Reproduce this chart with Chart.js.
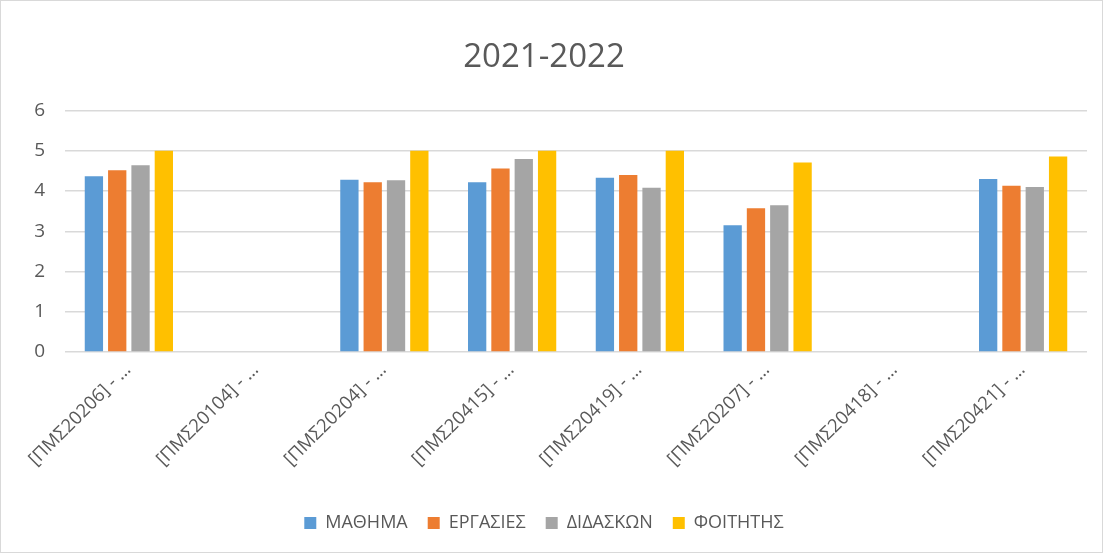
<!DOCTYPE html>
<html>
<head>
<meta charset="utf-8">
<script src="https://cdn.jsdelivr.net/npm/chart.js@4"></script>
<style>
    body { margin: 0; background: #fff; }
    #wrap { width: 1103px; height: 553px; border: 1px solid #d9d9d9; box-sizing: border-box; }
</style>
</head>
<body>
<div id="wrap"><canvas id="courseChart"></canvas></div>
<script>
const courses = ['[ΠΜΣ20206] - …', '[ΠΜΣ20104] - …', '[ΠΜΣ20204] - …', '[ΠΜΣ20415] - …',
                 '[ΠΜΣ20419] - …', '[ΠΜΣ20207] - …', '[ΠΜΣ20418] - …', '[ΠΜΣ20421] - …'];
const seriesNames = ['ΜΑΘΗΜΑ', 'ΕΡΓΑΣΙΕΣ', 'ΔΙΔΑΣΚΩΝ', 'ΦΟΙΤΗΤΗΣ'];
const mathima   = [4.37, null, 4.28, 4.22, 4.33, 3.15, null, 4.30];
const ergasies  = [4.52, null, 4.22, 4.56, 4.40, 3.57, null, 4.13];
const didaskon  = [4.64, null, 4.27, 4.80, 4.08, 3.65, null, 4.10];
const foititis  = [5.00, null, 5.00, 5.00, 5.00, 4.71, null, 4.86];
const yTicks = [0, 1, 2, 3, 4, 5, 6];
const colors = ['#5B9BD5', '#ED7D31', '#A5A5A5', '#FFC000'];

const textColor = '#595959';
const fontFamily = '"Open Sans", sans-serif';

const datasets = [mathima, ergasies, didaskon, foititis].map((values, i) => ({
    label: seriesNames[i],
    data: values,
    backgroundColor: colors[i],
    categoryPercentage: 0.73,
    barPercentage: 0.785
}));

const ctx = document.getElementById('courseChart').getContext('2d');
new Chart(ctx, {
    type: 'bar',
    data: { labels: courses, datasets: datasets },
    options: {
        responsive: true,
        maintainAspectRatio: false,
        animation: false,
        layout: { padding: { top: 5, left: 0, right: 15, bottom: 10 } },
        plugins: {
            title: {
                display: true,
                text: '2021-2022',
                color: textColor,
                font: { family: fontFamily, size: 33, weight: 'normal' },
                padding: { top: 32, bottom: 33 }
            },
            legend: {
                position: 'bottom',
                labels: {
                    color: textColor,
                    font: { family: fontFamily, size: 18 },
                    boxWidth: 12,
                    boxHeight: 12,
                    padding: 20
                }
            },
            tooltip: { enabled: false }
        },
        scales: {
            x: {
                grid: { display: false },
                border: { display: false },
                ticks: {
                    color: textColor,
                    font: { family: fontFamily, size: 18.5 },
                    maxRotation: 45,
                    minRotation: 45,
                    autoSkip: false,
                    padding: -1,
                    labelOffset: -1
                },
                afterFit: scale => { scale.height = 142; }
            },
            y: {
                min: 0,
                max: 6,
                afterBuildTicks: scale => { scale.ticks = yTicks.map(v => ({ value: v })); },
                grid: { color: '#d9d9d9', lineWidth: 1.5, drawTicks: false },
                border: { display: false },
                ticks: {
                    color: textColor,
                    font: { family: fontFamily, size: 19 },
                    padding: 20
                },
                afterFit: scale => { scale.width = 64; }
            }
        }
    }
});
</script>
</body>
</html>
